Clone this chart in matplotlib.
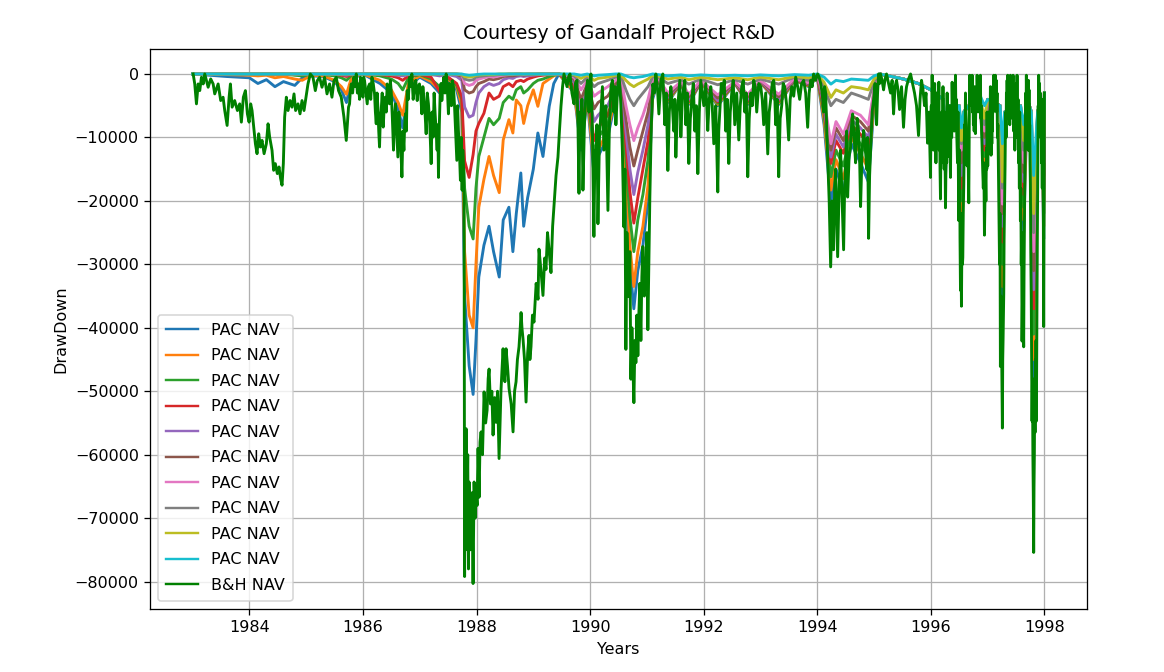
import matplotlib
matplotlib.use("Agg")
import matplotlib.pyplot as plt

# ---------------- data ----------------
pac_years = [
    1983.00, 1983.60, 1984.00, 1984.15, 1984.30, 1984.45, 1984.60, 1984.80, 1984.93, 1985.10,
    1985.30, 1985.50, 1985.62, 1985.71, 1985.80, 1986.00, 1986.30, 1986.50, 1986.62, 1986.70,
    1986.80, 1987.00, 1987.20, 1987.35, 1987.50, 1987.65, 1987.74,
    1987.79, 1987.87, 1987.94, 1987.99, 1988.04, 1988.13, 1988.22, 1988.30, 1988.40, 1988.47,
    1988.57, 1988.64, 1988.70, 1988.78, 1988.83, 1988.90, 1989.00, 1989.08, 1989.17, 1989.28,
    1989.36, 1989.45,
    1989.72, 1989.84, 1989.95, 1990.07, 1990.14, 1990.31, 1990.45, 1990.54, 1990.63, 1990.70,
    1990.77, 1990.84, 1990.93, 1991.02, 1991.10,
    1991.20, 1991.369, 1991.60, 1991.738, 1991.95, 1992.248, 1992.55, 1992.776, 1993.00, 1993.321,
    1993.60, 1993.85,
    1994.00, 1994.12, 1994.24, 1994.33, 1994.46, 1994.60, 1994.76, 1994.90, 1995.00, 1995.10,
    1995.52, 1995.78, 1996.00, 1996.22, 1996.258, 1996.31, 1996.50, 1996.539, 1996.58, 1996.85,
    1996.944, 1997.00, 1997.22, 1997.260, 1997.30, 1997.58, 1997.635, 1997.70, 1997.77, 1997.811,
    1997.88, 1997.95, 1997.987, 1998.00,
]

pac1 = [
    0, -400, -600, -1500, -900, -2000, -1200, -1800, -600, -300,
    -400, -1200, -2500, -4500, -800, 0, -1500, -3000, -5500, -8500,
    -2000, -500, -1500, -3000, -1000, -2500, -6000,
    -35000, -46000, -50500, -42000, -32000, -27000, -24000, -28000, -32000, -23000,
    -21000, -28000, -22000, -15600, -24000, -19500, -15000, -9300, -13000, -5100,
    -1500, 0,
    -3000, -12000, -4000, -16000, -13000, -10000, -4000, -2000, -18000, -30000,
    -37000, -31000, -27000, -20000, -4000,
    -1000, -4500, -1500, -4800, -1300, -5000, -1500, -4800, -1300, -4800,
    -1000, -2000,
    -500, -8000, -20300, -15000, -18500, -11000, -14000, -17000, -5000, 0,
    -800, -1500, -2500, -4000, -16000, -5000, -5000, -24000, -6000, -3000,
    -15000, -4000, -5000, -37000, -6000, -5000, -25000, -4000, -6000, -49000,
    -6000, -4000, -26000, -3000,
]
pac2 = [
    0, -100, -200, -300, -200, -600, -400, -800, -1000, -200,
    -300, -1000, -2000, -3200, -500, 0, -1000, -2500, -4500, -6500,
    -1500, -300, -1200, -2500, -800, -2000, -5000,
    -28000, -38000, -40000, -30000, -21000, -16600, -13000, -16000, -18700, -10400,
    -7200, -9300, -4100, -5000, -7800, -5000, -2500, -5100, -1500, -800,
    -300, 0,
    -2800, -11000, -3500, -14500, -12000, -9000, -3500, -1800, -16000, -27000,
    -33500, -28000, -24000, -17500, -3500,
    -950, -4300, -1450, -4600, -1250, -4800, -1450, -4600, -1250, -4600,
    -950, -1900,
    -400, -7200, -18300, -13500, -16500, -10000, -12500, -15000, -4500, 0,
    -800, -1500, -2500, -4000, -15000, -5000, -5000, -22000, -6000, -3000,
    -14000, -4000, -5000, -33500, -6000, -5000, -23000, -4000, -6000, -45000,
    -6000, -4000, -24000, -3000,
]
pac3 = [
    0, 0, 0, -100, 0, -100, 0, -200, -300, 0,
    -100, -300, -600, -1000, -200, 0, -300, -800, -1500, -2500,
    -600, -100, -800, -2000, -600, -1800, -4000,
    -18000, -24000, -26000, -18000, -13000, -10000, -7000, -8000, -7000, -4500,
    -3500, -4000, -2500, -2000, -3000, -2500, -1500, -1000, -800, -400,
    -200, 0,
    -2200, -9500, -3000, -12500, -10000, -8000, -3000, -1500, -13500, -22500,
    -28000, -23000, -19000, -13500, -3000,
    -900, -4100, -1400, -4400, -1200, -4600, -1400, -4400, -1200, -4400,
    -900, -1800,
    -300, -6400, -16200, -12000, -14500, -9000, -11000, -13000, -4000, 0,
    -800, -1500, -2500, -4000, -14000, -5000, -5000, -20000, -6000, -3000,
    -13000, -4000, -5000, -30000, -6000, -5000, -21000, -4000, -6000, -41000,
    -6000, -4000, -22000, -3000,
]
pac4 = [
    0, 0, 0, 0, 0, 0, 0, -100, -100, 0,
    0, -100, -200, -400, -100, 0, -100, -300, -600, -1000,
    -300, -50, -500, -2800, -500, -1500, -3500,
    -13700, -16300, -12700, -9000, -7800, -6200, -3000, -4000, -3500, -2000,
    -1500, -2000, -1200, -1000, -1200, -800, -500, -300, -200, -100,
    0, 0,
    -1800, -8000, -2500, -10500, -8500, -6500, -2500, -1200, -11000, -18500,
    -23500, -19500, -15000, -10500, -2500,
    -850, -3900, -1350, -4200, -1150, -4400, -1350, -4200, -1150, -4200,
    -850, -1700,
    -300, -5600, -14100, -10500, -12500, -8000, -9500, -11000, -3500, 0,
    -800, -1500, -2500, -4000, -13000, -5000, -5000, -18000, -6000, -3000,
    -12000, -4000, -5000, -26500, -6000, -5000, -19000, -4000, -6000, -37000,
    -6000, -4000, -20000, -3000,
]
pac5 = [
    0, 0, 0, 0, 0, 0, 0, 0, 0, 0,
    0, 0, -100, -200, 0, 0, 0, -100, -200, -300,
    -100, 0, -100, -300, -100, -400, -1000,
    -5200, -6800, -6500, -4500, -3000, -2000, -1500, -1800, -1500, -900,
    -600, -700, -400, -300, -400, -300, -200, -100, -100, 0,
    0, 0,
    -1200, -6000, -2000, -7500, -6500, -5000, -2000, -900, -9000, -15000,
    -19000, -15500, -12000, -8000, -2000,
    -800, -3700, -1300, -4000, -1100, -4200, -1300, -4000, -1100, -4000,
    -800, -1600,
    -200, -5000, -13100, -9500, -11500, -7200, -8500, -10000, -3000, 0,
    -800, -1500, -2500, -4000, -12000, -5000, -5000, -16000, -6000, -3000,
    -11000, -4000, -5000, -24000, -6000, -5000, -17000, -4000, -6000, -34000,
    -6000, -4000, -18000, -3000,
]
pac6 = [
    0, 0, 0, 0, 0, 0, 0, 0, 0, 0,
    0, 0, 0, -100, 0, 0, 0, 0, -100, -100,
    0, 0, 0, -100, 0, -100, -400,
    -2500, -3000, -2800, -2000, -1500, -1200, -800, -900, -700, -400,
    -300, -300, -200, -100, -200, -100, -100, 0, 0, 0,
    0, 0,
    -800, -4000, -1500, -5500, -4500, -3500, -1500, -700, -7000, -11500,
    -14500, -12000, -9000, -6000, -1500,
    -750, -3400, -1250, -3600, -1050, -3800, -1250, -3600, -1050, -3600,
    -750, -1500,
    -200, -4500, -12000, -8500, -10500, -6500, -7500, -9000, -2700, 0,
    -800, -1500, -2500, -4000, -11500, -5000, -5000, -14000, -6000, -3000,
    -10000, -4000, -5000, -22000, -6000, -5000, -15500, -4000, -6000, -31000,
    -6000, -4000, -16000, -3000,
]
pac7 = [
    0, 0, 0, 0, 0, 0, 0, 0, 0, 0,
    0, 0, 0, 0, 0, 0, 0, 0, 0, 0,
    0, 0, 0, 0, 0, 0, -150,
    -1500, -1800, -1600, -1000, -800, -600, -400, -500, -300, -200,
    -100, -100, 0, 0, -100, 0, 0, 0, 0, 0,
    0, 0,
    -500, -2500, -1000, -3500, -3000, -2000, -1000, -400, -5000, -8000,
    -10500, -8500, -6500, -4000, -1000,
    -700, -3000, -1200, -3200, -1000, -3300, -1200, -3200, -1000, -3200,
    -700, -1400,
    -100, -4000, -11000, -7500, -9500, -5800, -6500, -8000, -2400, 0,
    -800, -1500, -2500, -4000, -11000, -5000, -5000, -12000, -6000, -3000,
    -9000, -4000, -5000, -20500, -6000, -5000, -14000, -4000, -6000, -28000,
    -6000, -4000, -14000, -3000,
]
pac8 = [
    0, 0, 0, 0, 0, 0, 0, 0, 0, 0,
    0, 0, 0, 0, 0, 0, 0, 0, 0, 0,
    0, 0, 0, 0, 0, 0, -100,
    -800, -1000, -900, -500, -400, -300, -200, -200, -100, -100,
    0, 0, 0, 0, 0, 0, 0, 0, 0, 0,
    0, 0,
    -300, -1500, -500, -2000, -1500, -1000, -500, -200, -2500, -4000,
    -5000, -4000, -3000, -2000, -500,
    -500, -1500, -900, -1600, -800, -1700, -900, -1600, -800, -1600,
    -500, -1000,
    -100, -2000, -5000, -4000, -4500, -3000, -3500, -4000, -1200, 0,
    -800, -1500, -2500, -4000, -10500, -5000, -5000, -11000, -6000, -3000,
    -8000, -4000, -5000, -18000, -6000, -5000, -12000, -4000, -6000, -25000,
    -6000, -4000, -12000, -3000,
]
pac9 = [
    0, 0, 0, 0, 0, 0, 0, 0, 0, 0,
    0, 0, 0, 0, 0, 0, 0, 0, 0, 0,
    0, 0, 0, 0, 0, 0, -50,
    -400, -500, -400, -200, -150, -100, -100, -100, 0, 0,
    0, 0, 0, 0, 0, 0, 0, 0, 0, 0,
    0, 0,
    -100, -700, -200, -1000, -700, -500, -200, -100, -1000, -1600,
    -2000, -1600, -1200, -800, -200,
    -300, -800, -500, -900, -500, -900, -600, -900, -500, -900,
    -400, -600,
    -50, -1300, -3700, -2500, -3000, -2000, -2200, -2500, -800, 0,
    -800, -1500, -2500, -4000, -10000, -5000, -5000, -10500, -6000, -3000,
    -7000, -4000, -5000, -17000, -6000, -5000, -10500, -4000, -6000, -22000,
    -6000, -4000, -10000, -3000,
]
pac10 = [
    0, 0, 0, 0, 0, 0, 0, 0, 0, 0,
    0, 0, 0, 0, 0, 0, 0, 0, 0, 0,
    0, 0, 0, 0, 0, 0, 0,
    -100, -200, -150, -100, -50, 0, 0, 0, 0, 0,
    0, 0, 0, 0, 0, 0, 0, 0, 0, 0,
    0, 0,
    0, -200, 0, -300, -200, -100, 0, 0, -300, -500,
    -600, -500, -400, -200, 0,
    -100, -300, -150, -300, -150, -300, -200, -300, -150, -300,
    -100, -200,
    0, -500, -1600, -1000, -1200, -800, -900, -1000, -300, 0,
    -800, -1500, -2500, -4000, -9000, -5000, -5000, -8500, -6000, -3000,
    -5000, -4000, -5000, -11000, -6000, -5000, -8000, -4000, -6000, -16000,
    -6000, -4000, -7000, -3000,
]

# B&H drawdown, (year, value) pairs, period by period
bh_1983_1985 = [
    (1983.010, 0), (1983.038, -1570), (1983.068, -4710), (1983.098, -1570), (1983.126, -2620),
    (1983.156, -520), (1983.186, -1570), (1983.214, 0), (1983.274, -2090), (1983.319, -780),
    (1983.362, -1570), (1983.390, -3140), (1983.450, -1570), (1983.495, -4190), (1983.537, -3660),
    (1983.566, -5760), (1983.608, -8110), (1983.643, -3660), (1983.666, -1570), (1983.696, -5230),
    (1983.741, -4190), (1983.789, -5760), (1983.829, -4710), (1983.859, -7590), (1983.894, -3660),
    (1983.930, -2620), (1983.965, -6280), (1983.995, -7590), (1984.023, -4710), (1984.047, -5760),
    (1984.070, -7850), (1984.106, -10990), (1984.135, -12560), (1984.164, -9420), (1984.193, -11510),
    (1984.223, -10470), (1984.259, -12560), (1984.299, -10990), (1984.329, -7850), (1984.357, -9940),
    (1984.399, -12040), (1984.427, -15180), (1984.457, -14130), (1984.492, -15700), (1984.522, -14650),
    (1984.550, -16490), (1984.575, -17530), (1984.598, -14130), (1984.621, -6800), (1984.651, -3660),
    (1984.681, -5760), (1984.716, -4190), (1984.751, -5230), (1984.786, -3140), (1984.814, -5760),
    (1984.856, -4710), (1984.892, -6280), (1984.927, -4190), (1984.962, -5760), (1984.997, -3660),
    (1985.032, -1570), (1985.073, 0), (1985.120, -520), (1985.161, -2620), (1985.196, -1050),
    (1985.236, -520), (1985.279, -2090), (1985.324, -520), (1985.367, -3140), (1985.412, -1570),
    (1985.454, -3660), (1985.490, -1050), (1985.530, -520), (1985.570, -2620), (1985.618, -3660),
    (1985.665, -6800), (1985.706, -10470), (1985.746, -5230),
]
bh_1985_1987 = [
    (1985.764, -4710), (1985.779, -2500), (1985.794, -1570), (1985.818, -3000), (1985.841, -520),
    (1985.862, -2000), (1985.882, 0), (1985.902, -3000), (1985.922, -1570), (1985.940, -4000),
    (1985.957, -520), (1985.978, -2000), (1985.999, -3660), (1986.013, -500), (1986.028, -1050),
    (1986.052, -3000), (1986.075, -4710), (1986.096, -2000), (1986.116, -1570), (1986.137, -4000),
    (1986.158, -520), (1986.181, -1500), (1986.204, -3140), (1986.219, -6000), (1986.234, -7850),
    (1986.249, -3000), (1986.263, -5230), (1986.278, -9000), (1986.292, -11510), (1986.306, -7000),
    (1986.321, -5760), (1986.339, -3000), (1986.357, -8370), (1986.375, -5000), (1986.392, -3660),
    (1986.410, -6000), (1986.427, -1570), (1986.447, -3000), (1986.467, -4710), (1986.482, -1000),
    (1986.497, -2620), (1986.518, -7000), (1986.538, -12000), (1986.556, -7000), (1986.573, -4710),
    (1986.594, -9000), (1986.615, -13080), (1986.632, -6000), (1986.650, -8900), (1986.668, -12000),
    (1986.686, -16220), (1986.704, -9000), (1986.721, -12040), (1986.735, -8000), (1986.749, -6280),
    (1986.764, -9000), (1986.779, -2620), (1986.799, -4000), (1986.819, -520), (1986.840, -2000),
    (1986.861, 0), (1986.884, -4000), (1986.907, -2090), (1986.931, -1000), (1986.955, -4190),
    (1986.975, -2000), (1986.995, -1570), (1987.016, -3000), (1987.037, -6280), (1987.055, -2000),
    (1987.072, -3660), (1987.092, -6000), (1987.113, -9420), (1987.133, -3000), (1987.153, -4710),
    (1987.177, -8000), (1987.201, -14130), (1987.218, -6000), (1987.236, -9940), (1987.253, -3000),
    (1987.271, -6280), (1987.289, -9000), (1987.306, -12000), (1987.318, -8000), (1987.330, -16300),
    (1987.345, -8000), (1987.360, -3000), (1987.375, -1500), (1987.389, -4190), (1987.407, -2000),
    (1987.424, -520), (1987.445, -3000), (1987.465, 0), (1987.485, -2000), (1987.505, -6280),
    (1987.523, -1500), (1987.540, -3140), (1987.558, -5000), (1987.575, -1050), (1987.593, -2000),
    (1987.611, -4710), (1987.632, -9000), (1987.653, -13610), (1987.667, -5000), (1987.681, -8900),
    (1987.698, -12000), (1987.716, -16750), (1987.731, -10000), (1987.746, -18310), (1987.758, -12000),
    (1987.769, -14130), (1987.781, -20000),
]
bh_crash = [
    (1987.790, -79200), (1987.800, -60000), (1987.808, -75000), (1987.816, -55900), (1987.830, -70000),
    (1987.845, -60000), (1987.858, -78000), (1987.869, -64300), (1987.885, -75000), (1987.904, -72100),
    (1987.920, -66000), (1987.939, -80300), (1987.957, -64300), (1987.975, -70000), (1987.992, -65300),
    (1988.010, -68000), (1988.027, -59000), (1988.045, -66700), (1988.062, -58000), (1988.080, -56400),
    (1988.105, -60000), (1988.133, -50100), (1988.160, -55000), (1988.186, -53000), (1988.205, -48000),
    (1988.221, -46500), (1988.245, -52000), (1988.270, -50000), (1988.291, -56900), (1988.318, -51000),
    (1988.344, -54900), (1988.370, -50000), (1988.397, -60600), (1988.430, -50000), (1988.467, -43300),
    (1988.485, -47000), (1988.500, -48500), (1988.520, -43300), (1988.545, -46000), (1988.573, -49600),
    (1988.610, -52000), (1988.643, -56400), (1988.670, -50000), (1988.696, -48500), (1988.720, -45000),
    (1988.748, -43000), (1988.770, -40000), (1988.784, -37600), (1988.800, -40000), (1988.819, -41800),
    (1988.845, -45000), (1988.872, -51700), (1988.900, -44000), (1988.924, -41200), (1988.940, -45000),
    (1988.959, -43000), (1988.985, -38000), (1989.012, -39100), (1989.050, -33000), (1989.083, -35500),
    (1989.100, -27600), (1989.135, -31000), (1989.170, -34900), (1989.200, -29000), (1989.223, -30800),
    (1989.250, -25000), (1989.276, -27600), (1989.311, -31300), (1989.340, -24000), (1989.364, -20800),
    (1989.400, -16000), (1989.434, -13100), (1989.460, -9000), (1989.487, -5100), (1989.515, -2000),
]
bh_1989_1991 = [
    (1989.540, 0), (1989.567, -1000), (1989.593, -2000), (1989.620, -500), (1989.646, 0),
    (1989.680, -3000), (1989.716, -4700), (1989.742, -1500), (1989.769, -1000), (1989.786, -8000),
    (1989.804, -18800), (1989.821, -6000), (1989.839, -9000), (1989.856, -4000), (1989.874, -18300),
    (1989.900, -8000), (1989.927, -3000), (1989.954, -1000), (1989.980, -6000), (1989.998, -2000),
    (1990.015, 0), (1990.041, -9000), (1990.067, -25600), (1990.085, -12000), (1990.102, -15000),
    (1990.120, -8000), (1990.138, -23600), (1990.165, -10000), (1990.191, -6000), (1990.217, -2000),
    (1990.243, -12000), (1990.278, -5000), (1990.314, -21500), (1990.340, -8000), (1990.367, -2000),
    (1990.393, -1000), (1990.419, -6000), (1990.437, -2000), (1990.454, -8000), (1990.480, -3000),
    (1990.507, 0), (1990.525, -2000), (1990.542, -5000), (1990.568, -12000), (1990.595, -24100),
    (1990.612, -15000), (1990.630, -43400), (1990.648, -25000), (1990.665, -30000), (1990.683, -35100),
    (1990.700, -28000), (1990.718, -48100), (1990.736, -40000), (1990.753, -46000), (1990.771, -51800),
    (1990.789, -42000), (1990.806, -45500), (1990.824, -38000), (1990.841, -44400), (1990.859, -37700),
    (1990.876, -33000), (1990.894, -42000), (1990.911, -32000), (1990.929, -27200), (1990.955, -35000),
    (1990.982, -29800), (1991.000, -25000), (1991.017, -40300), (1991.035, -30000), (1991.052, -19400),
    (1991.078, -8000), (1991.105, -1600), (1991.131, -3000),
]
bh_1991_1993 = [
    (1991.158, 0), (1991.185, -2000), (1991.211, -6300), (1991.246, -1000), (1991.281, 0),
    (1991.298, -4000), (1991.316, -8000), (1991.342, -3000), (1991.369, -15200), (1991.395, -6000),
    (1991.422, -2000), (1991.448, -5000), (1991.474, -9000), (1991.492, -4000), (1991.510, -13100),
    (1991.536, -6000), (1991.562, -3000), (1991.580, -1000), (1991.598, -9900), (1991.624, -4000),
    (1991.650, -2000), (1991.668, -1000), (1991.686, -8000), (1991.712, -3000), (1991.738, -14100),
    (1991.765, -7000), (1991.791, -4000), (1991.817, -1500), (1991.844, -9000), (1991.870, -5000),
    (1991.897, -15700), (1991.923, -6000), (1991.949, -1000), (1991.975, -3000), (1992.002, -5000),
    (1992.037, -1500), (1992.072, -8900), (1992.098, -4000), (1992.125, -2000), (1992.151, -5000),
    (1992.178, -11000), (1992.213, -5000), (1992.248, -18600), (1992.265, -9000), (1992.283, -6000),
    (1992.310, -1500), (1992.336, -3000), (1992.362, -1000), (1992.389, -9000), (1992.415, -4000),
    (1992.442, -14100), (1992.468, -6000), (1992.494, -3000), (1992.520, -1000), (1992.547, -8000),
    (1992.582, -3000), (1992.618, -10400), (1992.644, -5000), (1992.670, -2000), (1992.697, -1000),
    (1992.723, -6000), (1992.750, -3000), (1992.776, -16200), (1992.802, -7000), (1992.829, -3000),
    (1992.855, -5000), (1992.881, -1000), (1992.908, -2000), (1992.934, -6000), (1992.970, -1500),
    (1993.005, -2000), (1993.031, -4000), (1993.057, -8000), (1993.092, -3000), (1993.128, -12600),
    (1993.154, -6000), (1993.180, -4000), (1993.207, -1500), (1993.233, -1000), (1993.250, -3000),
    (1993.268, -8000), (1993.295, -4000), (1993.321, -16200), (1993.347, -7000), (1993.374, -5000),
    (1993.400, -1500), (1993.426, -2000), (1993.462, -5000), (1993.497, -10400), (1993.523, -4000),
    (1993.550, -2000), (1993.585, -3500), (1993.620, -500), (1993.655, -2000), (1993.690, -4000),
    (1993.725, -1500), (1993.761, -1000), (1993.796, -3000), (1993.831, -8400), (1993.857, -3000),
    (1993.884, -1000), (1993.910, -2000), (1993.937, 0), (1993.972, -1000),
]
bh_1994_1995 = [
    (1994.007, 0), (1994.033, -500), (1994.060, -1500), (1994.087, -3000), (1994.113, -6000),
    (1994.130, -2000), (1994.148, -3000), (1994.165, -8000), (1994.183, -13100), (1994.210, -20000),
    (1994.236, -30400), (1994.262, -20000), (1994.288, -27700), (1994.306, -18000), (1994.324, -15000),
    (1994.342, -22000), (1994.359, -28800), (1994.385, -18000), (1994.411, -12000), (1994.438, -20000),
    (1994.464, -27700), (1994.482, -18000), (1994.499, -14000), (1994.517, -9000), (1994.535, -19400),
    (1994.561, -13000), (1994.587, -11500), (1994.605, -8000), (1994.623, -6300), (1994.649, -10000),
    (1994.675, -14000), (1994.702, -7000), (1994.728, -9000), (1994.745, -13000), (1994.763, -20900),
    (1994.790, -12000), (1994.816, -8900), (1994.843, -11000), (1994.869, -15000), (1994.887, -10000),
    (1994.904, -25900), (1994.922, -16000), (1994.939, -12000), (1994.966, -6000), (1994.992, -4000),
    (1995.018, -1500), (1995.045, -8000), (1995.062, -3000), (1995.080, 0), (1995.098, -1500),
    (1995.115, 0), (1995.141, -1000), (1995.168, -2500), (1995.194, -800), (1995.220, 0),
    (1995.255, -1500), (1995.291, -3000), (1995.318, -1000), (1995.344, -6300), (1995.370, -2000),
    (1995.396, -1000), (1995.422, -2500), (1995.449, -5600), (1995.484, -2000), (1995.519, -8400),
    (1995.546, -4000), (1995.572, -2000), (1995.607, -800), (1995.643, 0), (1995.678, -1500),
    (1995.713, -3000), (1995.748, -5000), (1995.783, -9700), (1995.810, -4000), (1995.836, -1000),
    (1995.862, -2500), (1995.889, -5000), (1995.915, -3000), (1995.942, -10900), (1995.968, -6000),
]
bh_1996 = [
    (1995.994, -16300), (1996.001, -8000), (1996.008, -5000), (1996.015, -10000), (1996.023, -200),
    (1996.030, -6000), (1996.038, -3000), (1996.045, -12000), (1996.053, -8800), (1996.060, -4000),
    (1996.068, -1500), (1996.075, -9000), (1996.082, -3000), (1996.090, -14000), (1996.097, -6000),
    (1996.104, -3000), (1996.111, -11700), (1996.118, -7000), (1996.126, -4000), (1996.133, -9000),
    (1996.141, -1300), (1996.148, -12000), (1996.155, -8000), (1996.162, -15000), (1996.170, -19700),
    (1996.177, -12000), (1996.184, -9000), (1996.191, -14000), (1996.199, -5900), (1996.206, -10000),
    (1996.214, -2000), (1996.221, -8000), (1996.228, -11700), (1996.235, -15000), (1996.243, -6000),
    (1996.250, -12000), (1996.258, -21100), (1996.265, -16000), (1996.272, -10000), (1996.279, -14000),
    (1996.287, -3000), (1996.294, -9000), (1996.302, -6000), (1996.309, -13000), (1996.316, -11700),
    (1996.323, -7000), (1996.331, -5000), (1996.338, -12000), (1996.346, -16300), (1996.353, -9000),
    (1996.360, -6000), (1996.367, -10000), (1996.375, -1300), (1996.382, -5000), (1996.390, -3000),
    (1996.397, -8000), (1996.404, -5900), (1996.411, -9000), (1996.419, -2000), (1996.426, -4000),
    (1996.434, -200), (1996.441, -6000), (1996.448, -4000), (1996.455, -9000), (1996.463, -11700),
    (1996.470, -14000), (1996.478, -6000), (1996.485, -16000), (1996.492, -23100), (1996.499, -18000),
    (1996.507, -12000), (1996.514, -26000), (1996.522, -34100), (1996.530, -25000), (1996.539, -36600),
    (1996.545, -30000), (1996.551, -22000), (1996.557, -30000), (1996.563, -28900), (1996.571, -22000),
    (1996.580, -17400), (1996.587, -12000), (1996.595, -8000), (1996.602, -11000), (1996.610, -3000),
    (1996.617, -6000), (1996.625, -8000), (1996.632, -12000), (1996.639, -14500), (1996.646, -10000),
    (1996.654, -9000), (1996.661, -16000), (1996.668, -20300), (1996.672, -14000), (1996.677, -8000),
    (1996.681, -3000), (1996.686, -200), (1996.696, -4000), (1996.706, -2000), (1996.716, -5000),
    (1996.727, -200), (1996.734, -6000), (1996.742, -3000), (1996.749, -8000), (1996.756, -5900),
    (1996.763, -9000), (1996.770, -2000), (1996.777, -7000), (1996.785, -9400), (1996.792, -5000),
    (1996.800, -3000), (1996.807, -6000), (1996.815, -200), (1996.822, -3000), (1996.830, -1500),
    (1996.837, -5000), (1996.844, -3000), (1996.851, -6000), (1996.858, -1000), (1996.865, -4000),
    (1996.873, -200), (1996.880, -7000), (1996.888, -5000), (1996.895, -9000), (1996.903, -11700),
    (1996.913, -15000), (1996.924, -18000), (1996.934, -14000), (1996.944, -25400), (1996.953, -20000),
    (1996.962, -16000), (1996.970, -20000), (1996.979, -11700), (1996.985, -15000), (1996.990, -6000),
    (1996.996, -10000),
]
bh_1997 = [
    (1997.002, -14500), (1997.011, -10000), (1997.020, -8000), (1997.028, -12000), (1997.037, -5900),
    (1997.043, -9000), (1997.049, -2000), (1997.055, -8000), (1997.061, -12800), (1997.066, -9000),
    (1997.070, -7000), (1997.074, -11000), (1997.078, -5900), (1997.085, -9000), (1997.093, -2000),
    (1997.100, -6000), (1997.108, -200), (1997.115, -4000), (1997.122, -1500), (1997.130, -5000),
    (1997.137, -200), (1997.145, -4000), (1997.152, -1000), (1997.159, -6000), (1997.166, -3000),
    (1997.173, -10000), (1997.181, -8000), (1997.188, -13000), (1997.196, -17400), (1997.210, -30000),
    (1997.218, -22000), (1997.225, -46100), (1997.234, -35000), (1997.243, -40000), (1997.251, -48000),
    (1997.260, -55800), (1997.266, -45000), (1997.272, -42000), (1997.278, -38000), (1997.284, -34600),
    (1997.290, -26000), (1997.296, -22000), (1997.302, -17000), (1997.307, -14500), (1997.313, -9000),
    (1997.319, -6000), (1997.325, -10000), (1997.331, -3000), (1997.337, -7000), (1997.343, -1000),
    (1997.348, -5000), (1997.354, -200), (1997.366, -6000), (1997.378, -2000), (1997.390, -8000),
    (1997.401, -200), (1997.413, -5000), (1997.425, -1500), (1997.437, -7000), (1997.448, -200),
    (1997.458, -9000), (1997.469, -2500), (1997.479, -12000), (1997.489, -5900), (1997.496, -10000),
    (1997.504, -1500), (1997.511, -7000), (1997.518, -200), (1997.527, -9000), (1997.536, -4000),
    (1997.545, -14000), (1997.553, -11700), (1997.559, -18000), (1997.565, -6000), (1997.571, -15000),
    (1997.577, -23100), (1997.585, -18000), (1997.592, -30000), (1997.599, -25000), (1997.606, -42100),
    (1997.614, -35000), (1997.621, -30000), (1997.628, -38000), (1997.635, -43000), (1997.641, -32000),
    (1997.647, -25000), (1997.653, -18000), (1997.659, -11700), (1997.665, -7000), (1997.671, -3000),
    (1997.677, -8000), (1997.682, -200), (1997.688, -6000), (1997.694, -2000), (1997.700, -10000),
    (1997.706, -5900), (1997.712, -12000), (1997.718, -1000), (1997.724, -8000), (1997.729, -2500),
    (1997.735, -12000), (1997.741, -8000), (1997.747, -14000), (1997.753, -17400), (1997.760, -28000),
    (1997.768, -35000), (1997.775, -45000), (1997.782, -54700), (1997.790, -48000), (1997.797, -60000),
    (1997.804, -66000), (1997.811, -75400), (1997.817, -65000), (1997.823, -60000), (1997.829, -50000),
    (1997.835, -56500), (1997.841, -45000), (1997.847, -50000), (1997.852, -42000), (1997.858, -54700),
    (1997.864, -44000), (1997.870, -35000), (1997.876, -25000), (1997.882, -17400), (1997.887, -10000),
    (1997.891, -5000), (1997.895, -9000), (1997.899, -200), (1997.906, -6000), (1997.914, -1500),
    (1997.921, -8000), (1997.928, -3000), (1997.935, -10000), (1997.943, -6000), (1997.950, -14000),
    (1997.958, -11700), (1997.962, -18000), (1997.967, -4000), (1997.971, -12000), (1997.975, -5000),
    (1997.981, -25000), (1997.987, -39800), (1997.993, -20000), (1998.000, -3000),
]

pac_series = [pac1, pac2, pac3, pac4, pac5, pac6, pac7, pac8, pac9, pac10]
pac_labels = ["PAC NAV"] * 10
bh_label = "B&H NAV"
pac_colors = ["C0", "C1", "C2", "C3", "C4", "C5", "C6", "C7", "C8", "C9"]
bh_color = "green"

bh_points = (bh_1983_1985 + bh_1985_1987 + bh_crash + bh_1989_1991
             + bh_1991_1993 + bh_1994_1995 + bh_1996 + bh_1997)
bh_years = [p[0] for p in bh_points]
bh_drawdown = [p[1] for p in bh_points]

# ---------------- figure ----------------
DPI = 115
LW = 1.8
fig = plt.figure(figsize=(1164 / DPI, 672 / DPI), dpi=DPI)
ax = fig.add_axes([150 / 1164, 1 - 609 / 672, (1087 - 150) / 1164, (609 - 48.5) / 672])

for vals, col, lab in zip(pac_series, pac_colors, pac_labels):
    ax.plot(pac_years, vals, color=col, lw=LW, label=lab)
ax.plot(bh_years, bh_drawdown, color=bh_color, lw=LW, label=bh_label)

ax.set_title("Courtesy of Gandalf Project R&D")
ax.set_xlabel("Years")
ax.set_ylabel("DrawDown")
ax.grid(True)
ax.ticklabel_format(axis="x", useOffset=False, style="plain")
leg = ax.legend(loc="lower left", labelspacing=0.66, borderpad=0.5)
for line in leg.get_lines():
    line.set_linewidth(1.5)

fig.savefig("out.png", dpi=DPI)
